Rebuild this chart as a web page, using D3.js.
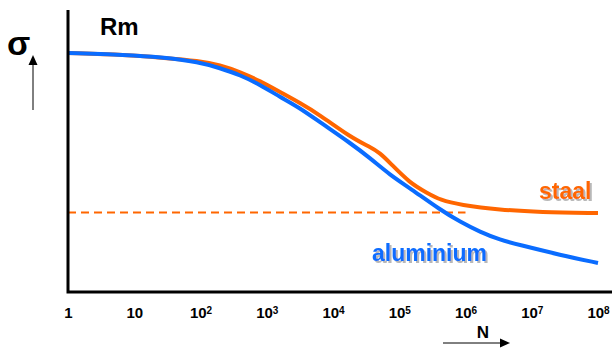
<!DOCTYPE html>
<html>
<head>
<meta charset="utf-8">
<script src="https://cdn.jsdelivr.net/npm/d3@7"></script>
<style>
  body { margin: 0; background: #fff; }
  text { font-family: 'Liberation Sans', Arial, sans-serif; font-weight: bold; }
</style>
</head>
<body>
<svg width="612" height="352"></svg>
<script>
// log10(N) and sigma as % of Rm
const staalLogN  = [0, 0.89, 1.39, 1.99, 2.29, 2.6, 2.9, 3.2, 3.5, 3.8, 4.26, 4.56, 4.71, 4.86, 5.16, 5.42, 5.62, 5.92, 6.52, 7.12, 8];
const staalSigma = [99.6, 98.8, 97.7, 96.3, 94.6, 91.7, 87.9, 83.3, 78.8, 73.8, 64.6, 60.4, 57.9, 53.8, 45.4, 41.3, 38.3, 36.3, 34.2, 33.3, 32.9];
const aluLogN  = [0, 0.89, 1.39, 1.99, 2.29, 2.6, 2.9, 3.2, 3.5, 3.8, 4.26, 4.56, 4.86, 5.16, 5.62, 5.92, 6.22, 6.52, 6.82, 7.43, 8];
const aluSigma = [99.6, 98.8, 97.9, 95.8, 93.3, 90.4, 86.3, 81.3, 76.7, 70.8, 62.1, 55.8, 48.8, 43.3, 34.2, 29.2, 25.0, 21.7, 19.6, 15.4, 12.1];
const fatigueLimit = 33.1;      // staal endurance level
const fatigueLimitEnd = 1e6;    // dashed line stops here
const tickExp = [0, 1, 2, 3, 4, 5, 6, 7, 8];
const tickBase = ['1', '10', '10', '10', '10', '10', '10', '10', '10'];
const tickSup = ['', '', '2', '3', '4', '5', '6', '7', '8'];

const orange = '#ff6600';
const blue = '#0a6cff';

const svg = d3.select('svg');
const width = +svg.attr('width');

const defs = svg.append('defs');
defs.append('filter')
  .attr('id', 'shadow')
  .attr('x', '-10%').attr('y', '-20%')
  .attr('width', '130%').attr('height', '150%')
  .append('feDropShadow')
    .attr('dx', 2).attr('dy', 2)
    .attr('stdDeviation', 0.6)
    .attr('flood-color', '#888')
    .attr('flood-opacity', 0.6);

const xScale = d3.scaleLog().domain([1, 1e8]).range([68, 598]);
const yScale = d3.scaleLinear().domain([0, 100]).range([292, 52]);

const line = d3.line()
  .x(d => xScale(Math.pow(10, d[0])))
  .y(d => yScale(d[1]))
  .curve(d3.curveBasis);

// dashed endurance line
svg.append('line')
  .attr('x1', xScale(1)).attr('x2', xScale(fatigueLimitEnd))
  .attr('y1', yScale(fatigueLimit)).attr('y2', yScale(fatigueLimit))
  .attr('stroke', orange).attr('stroke-width', 2)
  .attr('stroke-dasharray', '8,5');

svg.append('path')
  .datum(d3.zip(staalLogN, staalSigma))
  .attr('d', line)
  .attr('fill', 'none').attr('stroke', orange).attr('stroke-width', 4);

svg.append('path')
  .datum(d3.zip(aluLogN, aluSigma))
  .attr('d', line)
  .attr('fill', 'none').attr('stroke', blue).attr('stroke-width', 4);

// axes
svg.append('path')
  .attr('d', `M68,10V292H${width}`)
  .attr('fill', 'none').attr('stroke', '#000').attr('stroke-width', 3);

const xAxis = d3.axisBottom(xScale)
  .tickValues(tickExp.map(e => Math.pow(10, e)))
  .tickSize(0)
  .tickFormat('');

const xAxisG = svg.append('g')
  .attr('transform', 'translate(0,292)')
  .call(xAxis);
xAxisG.select('.domain').remove();

xAxisG.selectAll('.tick text')
  .attr('y', 26).attr('dy', 0)
  .attr('fill', '#000')
  .style('font-size', '15px')
  .each(function(d, i) {
    const t = d3.select(this);
    t.append('tspan').text(tickBase[i]);
    if (tickSup[i]) {
      t.append('tspan')
        .attr('dy', -4)
        .style('font-size', '10px')
        .text(tickSup[i]);
    }
  });

// sigma label with arrow
svg.append('text')
  .attr('x', 7).attr('y', 55)
  .style('font-size', '34px')
  .text('σ');
svg.append('line')
  .attr('x1', 33).attr('x2', 33).attr('y1', 110).attr('y2', 64)
  .attr('stroke', '#000').attr('stroke-width', 1);
svg.append('path')
  .attr('d', 'M28.5,65L33,55L37.5,65Z').attr('fill', '#000');

svg.append('text')
  .attr('x', 100).attr('y', 35)
  .style('font-size', '24px')
  .text('Rm');

// N label with arrow
svg.append('text')
  .attr('x', 483).attr('y', 338)
  .attr('text-anchor', 'middle')
  .style('font-size', '17px')
  .text('N');
svg.append('line')
  .attr('x1', 443).attr('x2', 501).attr('y1', 343).attr('y2', 343)
  .attr('stroke', '#000').attr('stroke-width', 1);
svg.append('path')
  .attr('d', 'M500,338.5L510,343L500,347.5Z').attr('fill', '#000');

// series labels with soft shadow
const seriesLabel = (txt, x, y, color) => {
  svg.append('text')
    .attr('x', x).attr('y', y)
    .attr('fill', color)
    .attr('filter', 'url(#shadow)')
    .style('font-size', '23px')
    .text(txt);
};
seriesLabel('staal', 539, 199, orange);
seriesLabel('aluminium', 372, 261, blue);
</script>
</body>
</html>
